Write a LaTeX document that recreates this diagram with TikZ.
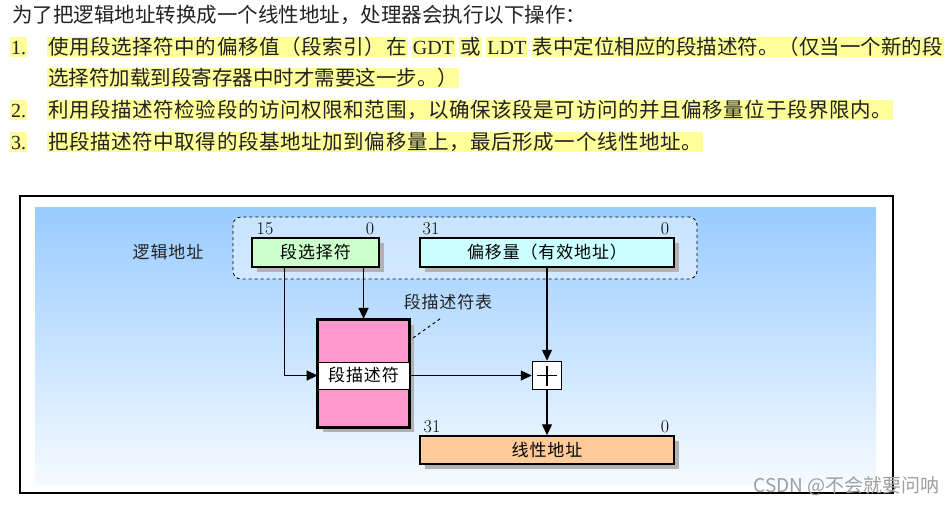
\documentclass[tikz,border=0pt]{standalone}
\usepackage{fontspec}
\usetikzlibrary{arrows.meta,shadows}
\newfontfamily\cjkA{Noto Sans CJK SC}
\newfontfamily\cjkB[LetterSpace=3]{Noto Sans CJK SC}
\newfontfamily\cjkd[LetterSpace=5]{Noto Sans CJK SC}
\newfontfamily\lat{Liberation Serif}
\definecolor{hl}{HTML}{FFFF99}
\definecolor{bgtop}{HTML}{99CCFF}
\definecolor{bgbot}{HTML}{F5FAFF}
\definecolor{selc}{HTML}{CCFFCC}
\definecolor{offc}{HTML}{CCFFFF}
\definecolor{tblc}{HTML}{FF99CC}
\definecolor{linc}{HTML}{FFCC99}
\definecolor{txt}{HTML}{222222}
\tikzset{
  toptext/.style={font=\cjkB\fontsize{20.5}{22}\selectfont, inner sep=0pt, anchor=base west, text=txt},
  hlseg/.style={toptext, fill=hl, inner xsep=1pt, inner ysep=0pt, text height=17pt, text depth=3pt},
  tight/.style={font=\cjkA\fontsize{20.5}{22}\selectfont},
  latseg/.style={hlseg, font=\lat\fontsize{20}{22}\selectfont},
  numlab/.style={hlseg, font=\lat\fontsize{20}{22}\selectfont, text width=15pt},
  dfont/.style={font=\cjkd\fontsize{17}{19}\selectfont},
  numf/.style={font=\fontsize{18}{18}\selectfont, inner sep=0pt},
  shd/.style={drop shadow={shadow xshift=5pt, shadow yshift=-5pt, fill=black!30, opacity=1}},
  regbox/.style={draw, line width=1.5pt, dfont, inner sep=0pt, minimum height=29pt, shd},
  arr/.style={line width=1.3pt, -{Triangle[length=11pt,width=10pt]}},
}
\begin{document}
\begin{tikzpicture}[x=1pt,y=-1pt]
\useasboundingbox (0,0) rectangle (952,504);
% top text
\node[toptext, tight] (t0) at (12,22) {为了把逻辑地址转换成一个线性地址，处理器会执行以下操作：};
\node[numlab] (n1) at (10,54) {1.};
\node[hlseg] (l1a) at (47,54) {使用段选择符中的偏移值（段索引）在};
\node[latseg] (l1b) at ([xshift=4pt]l1a.base east) {GDT};
\node[hlseg] (l1c) at ([xshift=4pt]l1b.base east) {或};
\node[latseg] (l1d) at ([xshift=4pt]l1c.base east) {LDT};
\node[hlseg, tight] (l1e) at ([xshift=4pt]l1d.base east) {表中定位相应的段描述符。（仅当一个新的段};
\node[hlseg, tight] (l1f) at (47,85) {选择符加载到段寄存器中时才需要这一步。）};
\node[numlab] (n2) at (10,117) {2.};
\node[hlseg] (l2) at (47,117) {利用段描述符检验段的访问权限和范围，以确保该段是可访问的并且偏移量位于段界限内。};
\node[numlab] (n3) at (10,149) {3.};
\node[hlseg] (l3) at (47,149) {把段描述符中取得的段基地址加到偏移量上，最后形成一个线性地址。};
% frame and background
\draw[line width=2pt] (20,196) rectangle (893,493);
\shade[top color=bgtop, bottom color=bgbot] (35,207) rectangle (876,484);
\draw[dashed, line width=0.8pt, rounded corners=8pt, fill=white, fill opacity=0.45] (233,217) rectangle (697,279);
\node[dfont, text=txt] (la) at (168,252) {逻辑地址};
% registers
\node[regbox, fill=selc, minimum width=127pt] (sel) at (315.5,252.5) {段选择符};
\node[regbox, fill=offc, minimum width=254pt] (off) at (547,252.5) {偏移量（有效地址）};
\node[numf] (s15) at (265,229) {15};
\node[numf] (s0) at (370,229) {0};
\node[numf] (o31) at (431,229) {31};
\node[numf] (o0) at (665,229) {0};
% descriptor table
\node[draw, line width=2.2pt, fill=tblc, minimum width=91pt, minimum height=107pt, inner sep=0pt, shd] (tbl) at (363.5,373.5) {};
\node[draw, line width=0.8pt, fill=white, minimum width=91pt, minimum height=27pt, inner sep=0pt, dfont] (desc) at (363.5,375.5) {段描述符};
\draw[line width=2.2pt] (tbl.north west) rectangle (tbl.south east);
\node[dfont, text=txt] (tl) at (448,302) {段描述符表};
\draw[dashed, line width=1pt] ([shift={(3pt,-19pt)}]tbl.north east) -- ([shift={(-6pt,-4pt)}]tl.south);
% adder
\node[draw, line width=1.5pt, fill=white, minimum width=29pt, minimum height=28pt, inner sep=0pt] (plus) at (547,375.5) {};
\draw[line width=1.1pt] ([xshift=-10pt]plus.center) -- ([xshift=10pt]plus.center);
\draw[line width=1.1pt] ([yshift=-10pt]plus.center) -- ([yshift=10pt]plus.center);
% linear address
\node[regbox, fill=linc, minimum width=254pt, minimum height=28pt] (lin) at (547,450) {线性地址};
\node[numf] (l31) at (432,427) {31};
\node[numf] (l0) at (665,427) {0};
% connectors
\draw[arr] ([xshift=33pt]sel.south west) |- (desc.west);
\draw[arr] (sel.south -| tbl.north) -- (tbl.north);
\draw[arr] (off.south) -- (plus.north);
\draw[arr] (desc.east) -- (plus.west);
\draw[arr] (plus.south) -- (lin.north);
% watermark
\node[font=\cjkA\fontsize{19}{20}\selectfont, text=black!38, anchor=east, inner sep=0pt] (wm) at (940,486) {CSDN @不会就要问呐};
\end{tikzpicture}
\end{document}
